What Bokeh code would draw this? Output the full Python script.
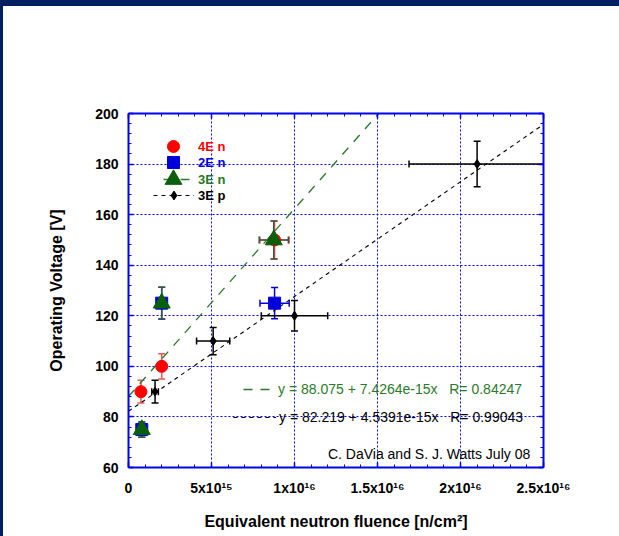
import numpy as np
from bokeh.plotting import figure
from bokeh.layouts import column, row
from bokeh.models import (ColumnDataSource, Range1d, LinearAxis, FixedTicker, Whisker, TeeHead,
                          Legend, LegendItem, Label, CustomJSTickFormatter, Div)
from bokeh.embed import file_html
from bokeh.resources import INLINE

# ---------------- data ----------------
n4e_x = [0.75e15, 2.0e15, 8.8e15]
n4e_y = [90, 100, 150]
n4e_yerr = [4.5, 5.0, 7.5]
n4e_xerr = [0.0, 0.0, 0.88e15]

n2e_x = [0.8e15, 2.0e15, 8.8e15]
n2e_y = [75, 125, 125]
n2e_yerr = [3.0, 6.3, 6.2]
n2e_xerr = [0.0, 0.0, 0.88e15]

n3e_x = [0.8e15, 2.0e15, 8.75e15]
n3e_y = [75, 125, 150]
n3e_yerr = [3.0, 6.3, 7.5]
n3e_xerr = [0.0, 0.0, 0.88e15]

p3e_x = [1.6e15, 5.1e15, 1.0e16, 2.1e16]
p3e_y = [90, 110, 120, 180]
p3e_yerr = [4.5, 5.4, 6.0, 9.0]
p3e_xerr = [0.2e15, 1.0e15, 2.0e15, 4.1e15]

fit_n_intercept, fit_n_slope, fit_n_r = 88.075, 7.4264e-15, 0.84247
fit_p_intercept, fit_p_slope, fit_p_r = 82.219, 4.5391e-15, 0.99043

x_ticks = [0, 5e15, 1e16, 1.5e16, 2e16, 2.5e16]
x_tick_labels = ["0", "5x10\u00b9\u2075", "1x10\u00b9\u2076", "1.5x10\u00b9\u2076", "2x10\u00b9\u2076", "2.5x10\u00b9\u2076"]
y_ticks = [60, 80, 100, 120, 140, 160, 180, 200]

series_labels = ["4E n", "2E n", "3E n", "3E p"]
credit_text = "C. DaVia and S. J. Watts July 08"

# ---------------- styling ----------------
FONT = "Liberation Sans"
AXIS_BLUE = "#0000ee"
RED = "#ff0000"
BLUE = "#0000dd"
GREEN = "#0b5e0b"
GREEN_TXT = "#2a7a2a"
BLACK = "#000000"
NAVY = "#002060"

X0, X1 = 0, 2.5e16
Y0, Y1 = 60, 200

p = figure(width=616, height=530, x_range=Range1d(X0, X1), y_range=Range1d(Y0, Y1),
           output_backend="svg", toolbar_location=None, title=None, margin=0,
           min_border_left=125, min_border_right=76, min_border_top=107, min_border_bottom=69)
p.outline_line_color = None
p.background_fill_color = "white"
p.border_fill_color = "white"

xticker = FixedTicker(ticks=x_ticks, minor_ticks=list(np.arange(X0, X1 + 1, 1e15)))
yticker = FixedTicker(ticks=y_ticks, minor_ticks=list(np.arange(Y0, Y1 + 1, 4)))

xfmt = CustomJSTickFormatter(args=dict(vals=x_ticks, labels=x_tick_labels),
                             code="const i = vals.findIndex(v => Math.abs(v - tick) < 1e10); return i >= 0 ? labels[i] : '';")
blank = CustomJSTickFormatter(code="return '';")

xaxis = p.below[0]
yaxis = p.left[0]
xaxis.ticker = xticker
xaxis.formatter = xfmt
yaxis.ticker = yticker
top_axis = LinearAxis(ticker=xticker, formatter=blank)
right_axis = LinearAxis(ticker=yticker, formatter=blank)
p.add_layout(top_axis, "above")
p.add_layout(right_axis, "right")

for ax in [xaxis, yaxis, top_axis, right_axis]:
    ax.axis_line_color = AXIS_BLUE
    ax.axis_line_width = 2
    ax.major_tick_line_color = AXIS_BLUE
    ax.major_tick_line_width = 1.5
    ax.major_tick_in = 5
    ax.major_tick_out = 0
    ax.minor_tick_line_color = AXIS_BLUE
    ax.minor_tick_in = 3
    ax.minor_tick_out = 0
    ax.major_label_text_font = FONT
    ax.major_label_text_font_style = "bold"
    ax.major_label_text_font_size = "14px"
    ax.major_label_text_color = "black"
    ax.axis_label_text_font = FONT
    ax.axis_label_text_font_style = "bold"
    ax.axis_label_text_font_size = "16px"
    ax.axis_label_text_color = "black"

top_axis.major_label_standoff = 0
right_axis.major_label_standoff = 0
xaxis.axis_label = "Equivalent neutron fluence [n/cm\u00b2]"
yaxis.axis_label = "Operating Voltage [V]"
xaxis.major_label_standoff = 12
xaxis.axis_label_standoff = 14
yaxis.major_label_standoff = 10
yaxis.axis_label_standoff = 27

for g in [p.xgrid[0], p.ygrid[0]]:
    g.grid_line_color = "#0000ff"
    g.grid_line_dash = "2 2"
    g.grid_line_width = 1
    g.level = "image"

# ---------------- fit lines ----------------
fit_x = [X0, X1]
fit_n = p.line(fit_x, [fit_n_intercept + fit_n_slope * v for v in fit_x],
               line_color=GREEN_TXT, line_width=1.3, line_dash="9 8")
fit_p = p.line(fit_x, [fit_p_intercept + fit_p_slope * v for v in fit_x],
               line_color=BLACK, line_width=1.1, line_dash="4 4")

# ---------------- error bars ----------------
def add_errors(xs, ys, xerr, yerr, color):
    src = ColumnDataSource(dict(x=xs, y=ys,
                                yl=[a - b for a, b in zip(ys, yerr)], yu=[a + b for a, b in zip(ys, yerr)]))
    wy = Whisker(base="x", lower="yl", upper="yu", source=src, dimension="height",
                 line_color=color, line_width=1.5,
                 lower_head=TeeHead(size=7, line_color=color, line_width=1.5),
                 upper_head=TeeHead(size=7, line_color=color, line_width=1.5), level="underlay")
    p.add_layout(wy)
    sel = [i for i, e in enumerate(xerr) if e > 0]
    if sel:
        src2 = ColumnDataSource(dict(y=[ys[i] for i in sel],
                                     xl=[xs[i] - xerr[i] for i in sel], xu=[xs[i] + xerr[i] for i in sel]))
        wx = Whisker(base="y", lower="xl", upper="xu", source=src2, dimension="width",
                     line_color=color, line_width=1.5,
                     lower_head=TeeHead(size=7, line_color=color, line_width=1.5),
                     upper_head=TeeHead(size=7, line_color=color, line_width=1.5), level="underlay")
        p.add_layout(wx)

add_errors(n4e_x, n4e_y, n4e_xerr, n4e_yerr, "#ee5555")
add_errors(n2e_x, n2e_y, n2e_xerr, n2e_yerr, BLUE)
add_errors(n3e_x, n3e_y, n3e_xerr, n3e_yerr, "#3a5a40")
add_errors(p3e_x, p3e_y, p3e_xerr, p3e_yerr, BLACK)

# ---------------- markers ----------------
r4 = p.scatter(n4e_x, n4e_y, marker="circle", size=12, fill_color=RED, line_color=RED)
r2 = p.scatter(n2e_x, n2e_y, marker="square", size=12, fill_color=BLUE, line_color=BLUE)
r3 = p.scatter(n3e_x, n3e_y, marker="triangle", size=17, fill_color=GREEN, line_color=GREEN)
rp = p.scatter(p3e_x, p3e_y, marker="diamond", size=9, fill_color=BLACK, line_color=BLACK)

# ---------------- legends (one per colour) ----------------
def make_legend(label, renderers, color, loc, gw, gh, standoff, size="13px", style="bold"):
    leg = Legend(items=[LegendItem(label=label, renderers=renderers)], location=loc,
                 padding=0, margin=0, spacing=0, glyph_width=gw, glyph_height=gh,
                 label_standoff=standoff, label_height=10, label_width=10,
                 border_line_color=None, background_fill_alpha=0,
                 label_text_font=FONT, label_text_font_style=style,
                 label_text_font_size=size, label_text_color=color)
    p.add_layout(leg)
    return leg

make_legend(series_labels[0], [r4], RED, (30, 306), 30, 30, 10)
make_legend(series_labels[1], [r2], BLUE, (30, 290), 30, 30, 10)
make_legend(series_labels[2], [fit_n], GREEN_TXT, (35, 280), 28, 16, 7)
make_legend(" ", [r3], GREEN, (24, 267), 42, 42, 0)
make_legend(series_labels[3], [fit_p, rp], BLACK, (25, 261), 41, 22, 4)

make_legend("y = %s + %se-15x   R= %s" % (fit_n_intercept, round(fit_n_slope * 1e15, 4), fit_n_r),
            [fit_n], GREEN_TXT, (115, 70), 28, 16, 7, size="14px", style="normal")
make_legend("y = %s + %se-15x   R= %s" % (fit_p_intercept, round(fit_p_slope * 1e15, 4), fit_p_r),
            [fit_p], BLACK, (105, 42), 43, 16, 3, size="14px", style="normal")

p.add_layout(Label(x=2.42e16, y=65.4, text=credit_text, text_align="right", text_baseline="middle",
                   text_font=FONT, text_font_size="14px", text_color="black"))

# slide frame: navy band at the top and on the left of the page
top_band = Div(text="", width=619, height=6, margin=0, styles={"background-color": NAVY})
left_band = Div(text="", width=3, height=530, margin=0, styles={"background-color": NAVY})
page = column(top_band, row(left_band, p, spacing=0, margin=0), spacing=0, margin=0)

open("out.html", "w").write(file_html(page, INLINE))
